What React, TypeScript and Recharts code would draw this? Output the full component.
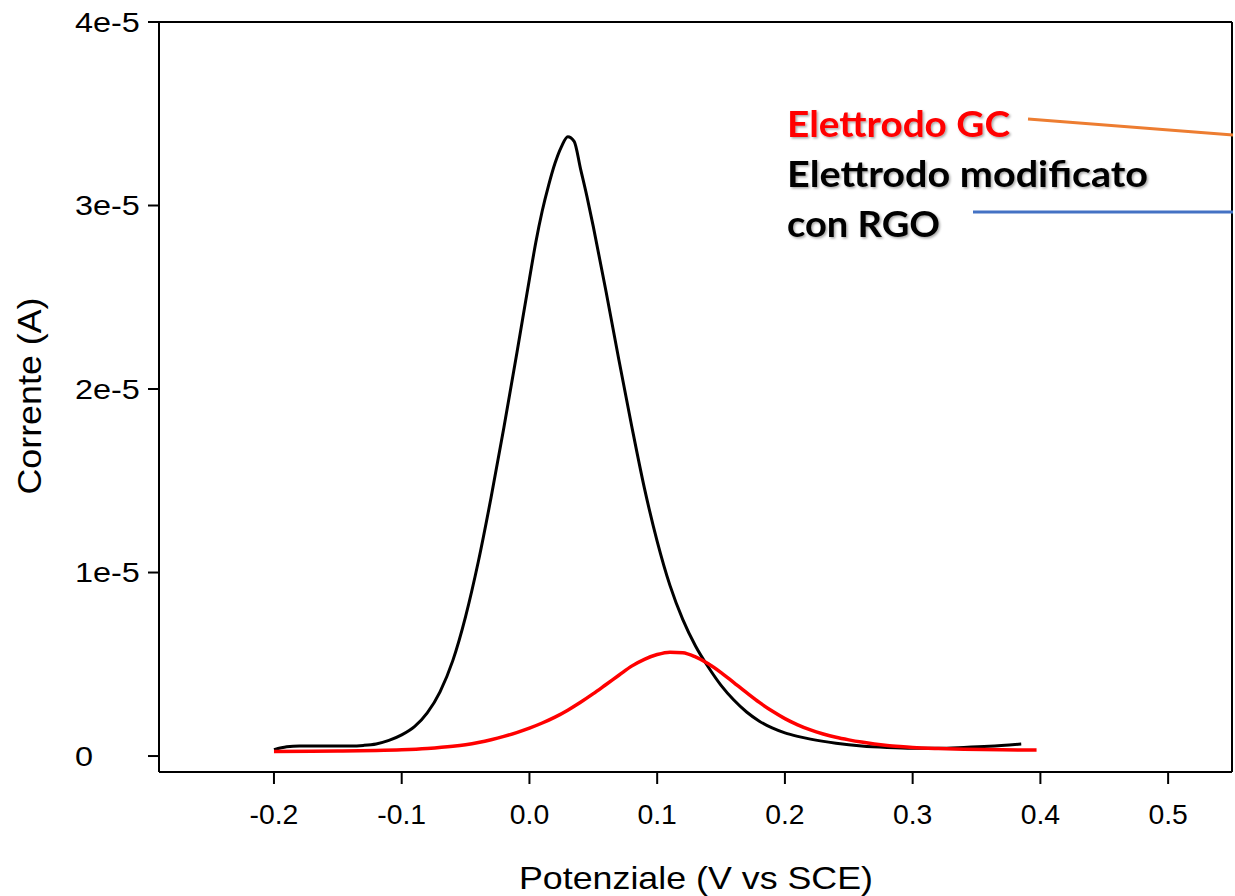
import React from "react";
import { LineChart, Line, XAxis, YAxis, ReferenceLine } from "recharts";

// potential in V vs SCE, current in units of 1e-5 A
const modifiedPotential = [
  -0.2, -0.19, -0.18, -0.16, -0.14, -0.13, -0.12, -0.11, -0.1, -0.09, -0.08, -0.07,
  -0.06, -0.05, -0.04, -0.03, -0.02, -0.01, 0.0, 0.005, 0.01, 0.015, 0.02, 0.025,
  0.03, 0.035, 0.04, 0.045, 0.05, 0.06, 0.07, 0.08, 0.09, 0.1, 0.11, 0.12, 0.13,
  0.14, 0.15, 0.16, 0.17, 0.18, 0.19, 0.2, 0.21, 0.22, 0.24, 0.26, 0.28, 0.3, 0.32,
  0.34, 0.36, 0.385,
];
const modifiedCurrent = [
  0.035, 0.05, 0.055, 0.055, 0.055, 0.058, 0.066, 0.085, 0.115, 0.16, 0.235, 0.35,
  0.52, 0.76, 1.06, 1.41, 1.79, 2.19, 2.6, 2.8, 2.97, 3.11, 3.23, 3.32,
  3.375, 3.35, 3.2, 3.05, 2.885, 2.53, 2.16, 1.8, 1.46, 1.17, 0.93, 0.745, 0.6,
  0.485, 0.385, 0.305, 0.24, 0.19, 0.153, 0.126, 0.107, 0.092, 0.07, 0.055, 0.047,
  0.043, 0.043, 0.047, 0.053, 0.065,
];

const gcPotential = [
  -0.2, -0.15, -0.12, -0.1, -0.08, -0.06, -0.05, -0.04, -0.03, -0.02, -0.01, 0.0,
  0.01, 0.02, 0.03, 0.04, 0.05, 0.06, 0.07, 0.08, 0.09, 0.1, 0.11, 0.12, 0.13,
  0.14, 0.15, 0.16, 0.17, 0.18, 0.19, 0.2, 0.21, 0.22, 0.23, 0.24, 0.25, 0.26, 0.27,
  0.28, 0.29, 0.3, 0.32, 0.34, 0.37, 0.397,
];
const gcCurrent = [
  0.025, 0.027, 0.03, 0.034, 0.041, 0.053, 0.062, 0.074, 0.089, 0.107, 0.128, 0.152,
  0.18, 0.212, 0.25, 0.293, 0.34, 0.39, 0.44, 0.49, 0.527, 0.553, 0.566, 0.563, 0.54,
  0.503, 0.455, 0.4, 0.345, 0.292, 0.245, 0.204, 0.17, 0.142, 0.12, 0.102, 0.088, 0.076,
  0.066, 0.058, 0.052, 0.047, 0.041, 0.037, 0.034, 0.033,
];

const xTicks = [-0.2, -0.1, 0.0, 0.1, 0.2, 0.3, 0.4, 0.5];
const yTicks = [0, 1e-5, 2e-5, 3e-5, 4e-5];

const toPoints = (xs: number[], ys: number[]) =>
  xs.map((x, i) => ({ x, y: ys[i] * 1e-5 }));

const FONT = "'Liberation Sans', Arial, sans-serif";

function XTick(props: any) {
  const { x, payload } = props;
  return (
    <text
      transform={`translate(${x},815) scale(1.05,1)`}
      textAnchor="middle"
      dominantBaseline="central"
      fontSize={27}
      fontFamily={FONT}
      fill="#000"
    >
      {Number(payload.value).toFixed(1)}
    </text>
  );
}

function YTick(props: any) {
  const { y, payload } = props;
  const v = payload.value;
  const label = v === 0 ? "0" : `${Math.round(v * 1e5)}e-5`;
  return (
    <text
      transform={`translate(75,${y}) scale(1.2,1)`}
      textAnchor="start"
      dominantBaseline="central"
      fontSize={27}
      fontFamily={FONT}
      fill="#000"
    >
      {label}
    </text>
  );
}

export default function App() {
  const modified = toPoints(modifiedPotential, modifiedCurrent);
  const gc = toPoints(gcPotential, gcCurrent);

  return (
    <div style={{ position: "absolute", left: 0, top: 0, width: 1235, height: 896, background: "#fff" }}>
      <LineChart width={1235} height={896} margin={{ top: 22, right: 3, left: 0, bottom: 0 }}>
        <XAxis
          type="number"
          dataKey="x"
          domain={[-0.29, 0.55]}
          ticks={xTicks}
          allowDataOverflow
          height={124}
          tickSize={12}
          tick={<XTick />}
          axisLine={{ stroke: "#000", strokeWidth: 2 }}
          tickLine={{ stroke: "#000", strokeWidth: 2 }}
        />
        <YAxis
          type="number"
          domain={[-0.087e-5, 4e-5]}
          ticks={yTicks}
          allowDataOverflow
          width={159}
          tickSize={11}
          tick={<YTick />}
          axisLine={{ stroke: "#000", strokeWidth: 2 }}
          tickLine={{ stroke: "#000", strokeWidth: 2 }}
        />
        {/* frame: top and right edges */}
        <ReferenceLine y={4e-5} stroke="#000" strokeWidth={2} ifOverflow="visible" />
        <ReferenceLine x={0.55} stroke="#000" strokeWidth={2} ifOverflow="visible" />
        <Line
          data={modified}
          dataKey="y"
          type="monotone"
          stroke="#000000"
          strokeWidth={3}
          dot={false}
          isAnimationActive={false}
        />
        <Line
          data={gc}
          dataKey="y"
          type="monotone"
          stroke="#ff0000"
          strokeWidth={3.5}
          dot={false}
          isAnimationActive={false}
        />
      </LineChart>

      <svg
        width={1235}
        height={896}
        style={{ position: "absolute", left: 0, top: 0, pointerEvents: "none" }}
      >
        <defs>
          <filter id="txtShadow" x="-5%" y="-20%" width="110%" height="140%">
            <feDropShadow dx="1.5" dy="1.5" stdDeviation="1" floodColor="#000" floodOpacity="0.35" />
          </filter>
        </defs>
        <text
          x={696}
          y={878}
          textAnchor="middle"
          dominantBaseline="central"
          fontSize={32}
          fontFamily={FONT}
          textLength={354}
          lengthAdjust="spacingAndGlyphs"
          fill="#000"
        >
          Potenziale (V vs SCE)
        </text>
        <text
          transform="translate(29,396) rotate(-90)"
          textAnchor="middle"
          dominantBaseline="central"
          fontSize={34}
          fontFamily={FONT}
          textLength={197}
          lengthAdjust="spacingAndGlyphs"
          fill="#000"
        >
          Corrente (A)
        </text>

        <g fontFamily="Lato, 'Open Sans', sans-serif" fontWeight="bold" fontSize={37} filter="url(#txtShadow)">
          <text x={787} y={137} fill="#ff0000" textLength={223} lengthAdjust="spacingAndGlyphs">
            Elettrodo GC
          </text>
          <text x={787} y={187} fill="#000" textLength={361} lengthAdjust="spacingAndGlyphs">
            Elettrodo modificato
          </text>
          <text x={787} y={237} fill="#000" textLength={153} lengthAdjust="spacingAndGlyphs">
            con RGO
          </text>
        </g>
        <line x1={1028} y1={119} x2={1233} y2={135} stroke="#ED7D31" strokeWidth={3} />
        <line x1={973} y1={212} x2={1233} y2={212} stroke="#4472C4" strokeWidth={3} />
      </svg>
    </div>
  );
}
